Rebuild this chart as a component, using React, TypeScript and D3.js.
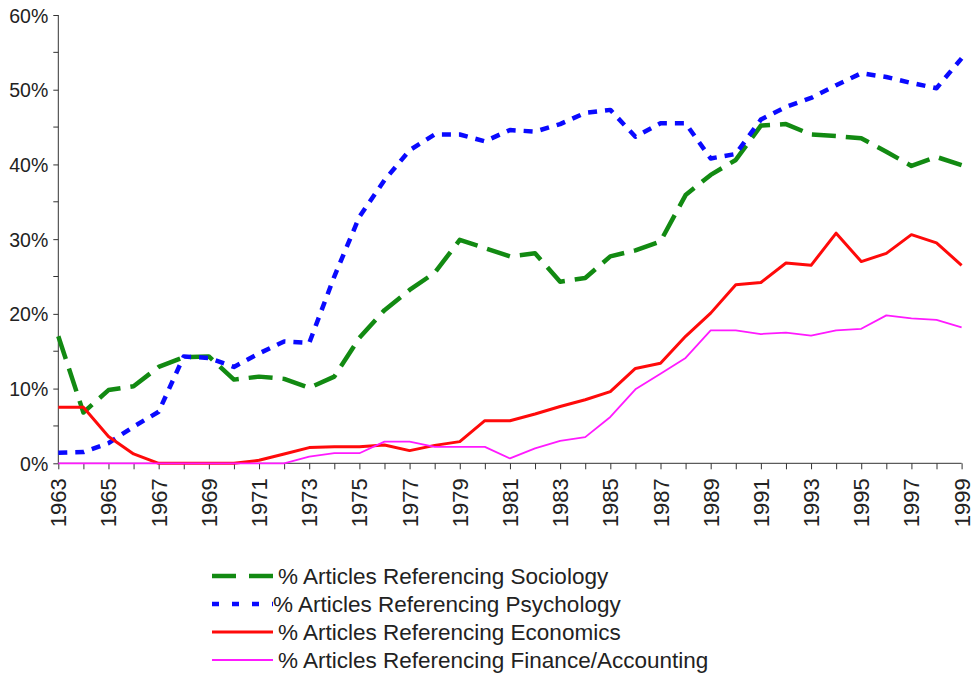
import React, { useEffect, useRef } from 'react'
import * as d3 from 'd3'

const years = d3.range(1963, 2000)

// % of articles referencing each discipline
const sociology = [17.0, 6.8, 9.8, 10.3, 12.9, 14.2, 14.3, 11.2, 11.6, 11.3, 10.1, 11.6, 16.8, 20.5, 23.2, 25.5, 29.9, 28.8, 27.7, 28.1, 24.3, 24.8, 27.7, 28.5, 29.7, 35.9, 38.6, 40.6, 45.2, 45.4, 44.0, 43.8, 43.5, 41.7, 39.8, 41.0, 39.9]
const psychology = [1.4, 1.5, 2.7, 4.9, 6.9, 14.3, 14.1, 12.9, 14.7, 16.3, 16.1, 25.0, 33.0, 37.9, 41.9, 44.0, 44.0, 43.1, 44.6, 44.4, 45.4, 46.9, 47.3, 43.7, 45.5, 45.5, 40.8, 41.4, 46.0, 47.7, 48.9, 50.6, 52.2, 51.7, 50.9, 50.2, 54.2]
const economics = [7.5, 7.5, 3.6, 1.25, 0, 0, 0, 0, 0.4, 1.25, 2.1, 2.2, 2.2, 2.45, 1.7, 2.4, 2.9, 5.7, 5.7, 6.6, 7.6, 8.5, 9.6, 12.7, 13.4, 17.0, 20.1, 23.9, 24.2, 26.8, 26.5, 30.8, 27.0, 28.1, 30.6, 29.5, 26.5]
const finance = [0, 0, 0, 0, 0, 0, 0, 0, 0, 0, 0.9, 1.35, 1.35, 2.9, 2.9, 2.2, 2.2, 2.2, 0.65, 2.0, 3.0, 3.5, 6.2, 9.9, 12.0, 14.1, 17.8, 17.8, 17.3, 17.5, 17.1, 17.8, 18.0, 19.8, 19.4, 19.2, 18.2]

const yTicks = [0, 10, 20, 30, 40, 50, 60]
const yMinorTicks = [5, 15, 25, 35, 45, 55]
const xLabelYears = years.filter(y => (y - 1963) % 2 === 0)

const series = [
    { name: '% Articles Referencing Sociology', values: sociology, color: '#128a12', width: 4.5, dash: '24 10', legendDash: '24 13' },
    { name: '% Articles Referencing Psychology', values: psychology, color: '#0a0aff', width: 4.5, dash: '9 8', legendDash: '7 13' },
    { name: '% Articles Referencing Economics', values: economics, color: '#ff0a0a', width: 3, dash: null, legendDash: null },
    { name: '% Articles Referencing Finance/Accounting', values: finance, color: '#ff1aff', width: 1.8, dash: null, legendDash: null },
]

const W = 974
const H = 673
const left = 58.3
const right = 961.6
const top = 15
const bottom = 463.3
const font = 'Arial, "Liberation Sans", Helvetica, sans-serif'

const App = () => {
    const ref = useRef(null)

    useEffect(() => {
        const svg = d3.select(ref.current)
        svg.selectAll('*').remove()

        const x = d3.scaleLinear().domain([1963, 1999]).range([left, right])
        const y = d3.scaleLinear().domain([0, 60]).range([bottom, top])

        // Y axis
        const yAxis = d3
            .axisLeft(y)
            .tickValues(yTicks)
            .tickSize(5)
            .tickPadding(5)
            .tickFormat(d => d + '%')
        const gy = svg.append('g').attr('transform', `translate(${left},0)`).call(yAxis)
        gy.selectAll('.tick line').attr('stroke', '#333')
        gy.select('.domain').attr('stroke', '#333').attr('d', `M0,${top}V${bottom}`)
        gy.selectAll('text').attr('font-size', 19.5).attr('font-family', font).attr('fill', '#222').attr('dy', '0.36em')
        svg.append('g')
            .selectAll('line')
            .data(yMinorTicks)
            .join('line')
            .attr('x1', left - 5)
            .attr('x2', left)
            .attr('y1', d => y(d))
            .attr('y2', d => y(d))
            .attr('stroke', '#333')

        // X axis
        const xAxis = d3.axisBottom(x).tickValues(years).tickSize(6).tickFormat(() => '')
        const gx = svg.append('g').attr('transform', `translate(0,${bottom})`).call(xAxis)
        gx.selectAll('.tick line').attr('stroke', '#333')
        gx.select('.domain').attr('stroke', '#333').attr('d', `M${left},0H${right}`)

        svg.append('g')
            .selectAll('text')
            .data(xLabelYears)
            .join('text')
            .attr('transform', d => `translate(${x(d) + 8},${bottom + 15}) rotate(-90)`)
            .attr('text-anchor', 'end')
            .attr('font-size', 22)
            .attr('font-family', font)
            .attr('fill', '#222')
            .text(d => d)

        // Lines
        const line = d3
            .line<number>()
            .x((_, i) => x(years[i]))
            .y(d => y(d))

        series.forEach(s => {
            svg.append('path')
                .datum(s.values)
                .attr('d', line)
                .attr('fill', 'none')
                .attr('stroke', s.color)
                .attr('stroke-width', s.width)
                .attr('stroke-linejoin', 'round')
                .attr('stroke-dasharray', s.dash)
        })

        // Legend
        const legend = svg.append('g').attr('transform', 'translate(212,576)')
        series.forEach((s, i) => {
            const row = legend.append('g').attr('transform', `translate(0,${i * 28})`)
            row.append('line')
                .attr('x1', 0)
                .attr('x2', 61)
                .attr('stroke', s.color)
                .attr('stroke-width', s.width)
                .attr('stroke-dasharray', s.legendDash)
            row.append('text')
                .attr('x', i === 1 ? 61 : 66)
                .attr('dy', '0.34em')
                .attr('font-size', 22.5)
                .attr('font-family', font)
                .attr('fill', '#222')
                .text(s.name)
        })
    }, [])

    return (
        <svg
            ref={ref}
            width={W}
            height={H}
            style={{ position: 'absolute', left: 0, top: 0, background: '#fff' }}
        />
    )
}

export default App
